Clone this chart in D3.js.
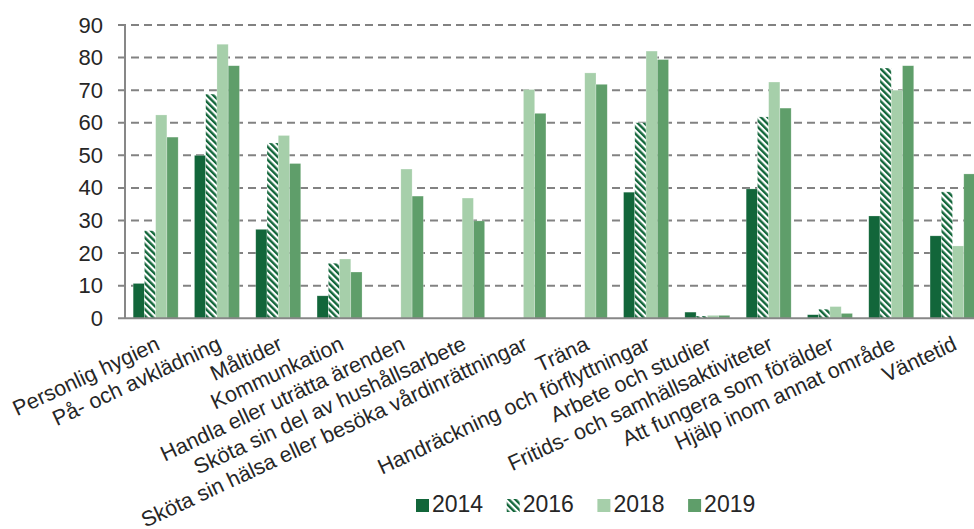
<!DOCTYPE html>
<html>
<head>
<meta charset="utf-8">
<script src="https://cdn.jsdelivr.net/npm/d3@7"></script>
<style>
  body { margin: 0; background: #fff; }
  svg { display: block; font-family: "Liberation Sans", Arial, sans-serif; }
</style>
</head>
<body>
<div class="chart"></div>
<script>
const categories = [
  "Personlig hygien",
  "På- och avklädning",
  "Måltider",
  "Kommunkation",
  "Handla eller uträtta ärenden",
  "Sköta sin del av hushållsarbete",
  "Sköta sin hälsa eller besöka vårdinrättningar",
  "Träna",
  "Handräckning och förflyttningar",
  "Arbete och studier",
  "Fritids- och samhällsaktiviteter",
  "Att fungera som förälder",
  "Hjälp inom annat område",
  "Väntetid"
];
const years = ["2014", "2016", "2018", "2019"];
const values2014 = [10.7, 50.0, 27.3, 6.9, null, null, null, null, 38.7, 1.9, 39.7, 1.1, 31.4, 25.3];
const values2016 = [26.9, 68.8, 53.8, 16.9, null, null, null, null, 60.0, 0.7, 61.8, 2.8, 76.8, 38.8];
const values2018 = [62.4, 84.1, 56.1, 18.2, 45.8, 36.9, 70.2, 75.3, 82.0, 0.9, 72.5, 3.6, 70.0, 22.2];
const values2019 = [55.6, 77.5, 47.5, 14.2, 37.5, 29.9, 62.9, 71.8, 79.4, 0.9, 64.5, 1.5, 77.5, 44.3];
const yTicks = [0, 10, 20, 30, 40, 50, 60, 70, 80, 90];

const series = {"2014": values2014, "2016": values2016, "2018": values2018, "2019": values2019};
const fills = {"2014": "#12663a", "2016": "url(#hatch)", "2018": "#a6cfaa", "2019": "#5f9e6a"};

const width = 974;
const height = 529;
const margin = {top: 25, left: 125, bottom: 211};
const plotBottom = height - margin.bottom + 0.3;
const step = 61.3;

const svg = d3.select("div.chart").append("svg")
  .attr("width", width)
  .attr("height", height);

const defs = svg.append("defs");
const hatch = defs.append("pattern")
  .attr("id", "hatch")
  .attr("patternUnits", "userSpaceOnUse")
  .attr("width", 4.6)
  .attr("height", 4.6)
  .attr("patternTransform", "rotate(-45)");
hatch.append("rect").attr("width", 4.6).attr("height", 4.6).attr("fill", "#fff");
hatch.append("rect").attr("width", 2.4).attr("height", 4.6).attr("fill", "#12663a");

const xScale = d3.scaleBand()
  .domain(categories)
  .range([margin.left, margin.left + step * categories.length])
  .paddingInner(0.266)
  .paddingOuter(0.133);
const x1 = d3.scaleBand()
  .domain(years)
  .range([0, xScale.bandwidth()]);
const yScale = d3.scaleLinear()
  .domain([0, 90])
  .range([plotBottom, margin.top]);

// grid lines (dashed, starting a bit left of the axis like tick marks)
svg.append("g").attr("class", "grid")
  .selectAll("line")
  .data(yTicks.filter((d) => d > 0))
  .enter()
  .append("line")
  .attr("x1", margin.left - 7)
  .attr("x2", width)
  .attr("y1", (d) => yScale(d))
  .attr("y2", (d) => yScale(d))
  .attr("stroke", "#828282")
  .attr("stroke-width", 2)
  .attr("stroke-dasharray", "8,5");

// y axis
const yAxis = d3.axisLeft(yScale).tickValues(yTicks).tickSize(0).tickPadding(22);
const yAxisGroup = svg.append("g")
  .attr("transform", `translate(${margin.left}, 0)`)
  .call(yAxis);
yAxisGroup.select(".domain").remove();
yAxisGroup.selectAll("text")
  .attr("font-size", 22)
  .attr("font-family", "Liberation Sans, Arial, sans-serif")
  .attr("fill", "#262626");

svg.append("line")
  .attr("x1", margin.left).attr("x2", margin.left)
  .attr("y1", margin.top).attr("y2", plotBottom)
  .attr("stroke", "#878787").attr("stroke-width", 2);

// bars
const groups = svg.append("g").attr("class", "bars")
  .selectAll("g")
  .data(categories)
  .enter()
  .append("g")
  .attr("transform", (d) => `translate(${xScale(d)}, 0)`);

groups.selectAll("rect")
  .data((d, i) => years.map((year) => ({year, value: series[year][i]})).filter((d) => d.value != null))
  .enter()
  .append("rect")
  .attr("x", (d) => x1(d.year))
  .attr("width", x1.bandwidth())
  .attr("y", (d) => yScale(d.value))
  .attr("height", (d) => yScale(0) - yScale(d.value))
  .attr("fill", (d) => fills[d.year])
  .attr("stroke", "#ffffff")
  .attr("stroke-opacity", 0.4)
  .attr("stroke-width", 0.6);

// baseline
svg.append("line")
  .attr("x1", margin.left - 7).attr("x2", width)
  .attr("y1", plotBottom).attr("y2", plotBottom)
  .attr("stroke", "#878787").attr("stroke-width", 2);

// rotated category labels
svg.append("g").attr("class", "xlabels")
  .selectAll("text")
  .data(categories)
  .enter()
  .append("text")
  .attr("transform", (d) => `translate(${xScale(d) + xScale.bandwidth() / 2 + 1}, ${plotBottom + 21}) rotate(-25)`)
  .attr("text-anchor", "end")
  .attr("dy", "0.5em")
  .attr("font-size", 21.5)
  .attr("fill", "#262626")
  .text((d) => d);

// legend
const legend = svg.append("g").attr("class", "legend")
  .selectAll("g")
  .data(years)
  .enter()
  .append("g")
  .attr("transform", (d, i) => `translate(${416 + i * 90.7}, 512)`);
legend.append("rect")
  .attr("x", 0).attr("y", -13)
  .attr("width", 13).attr("height", 13)
  .attr("fill", (d) => fills[d]);
legend.append("text")
  .attr("x", 16)
  .attr("font-size", 23)
  .attr("fill", "#262626")
  .text((d) => d);
</script>
</body>
</html>
